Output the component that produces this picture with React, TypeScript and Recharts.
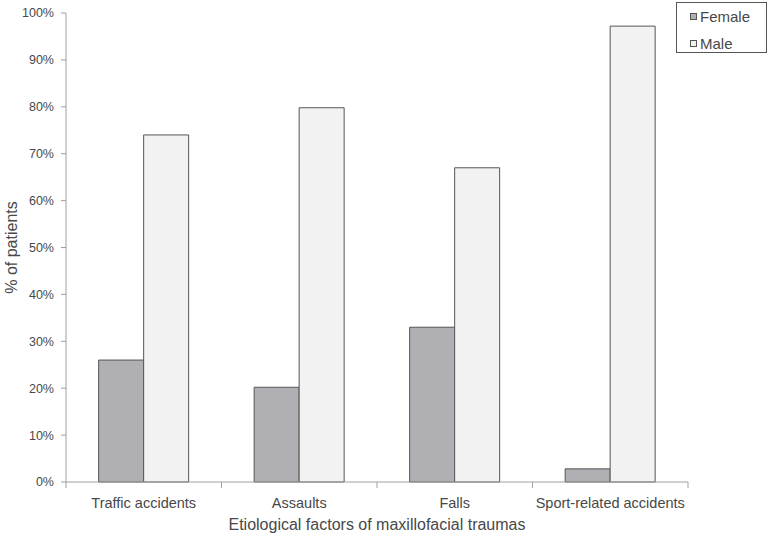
import { Bar, BarChart, XAxis, YAxis } from 'recharts'

const categories = ['Traffic accidents', 'Assaults', 'Falls', 'Sport-related accidents']
const female = [26, 20.2, 33, 2.8]
const male = [74, 79.8, 67, 97.2]
const yTicks = [0, 10, 20, 30, 40, 50, 60, 70, 80, 90, 100]

const data = categories.map((name, i) => ({ name, female: female[i], male: male[i] }))

const FONT = '"Liberation Sans", Arial, sans-serif'
const TEXT = '#484848'
const AXIS = '#a0a0a0'
const BAND = 622 / categories.length

function CategoryTick(props: any) {
  const { x, y, payload, index } = props
  const last = index === categories.length - 1
  return (
    <g>
      <line x1={x - BAND / 2} y1={y - 8} x2={x - BAND / 2} y2={y - 2} stroke={AXIS} />
      {last && <line x1={x + BAND / 2} y1={y - 8} x2={x + BAND / 2} y2={y - 2} stroke={AXIS} />}
      <text x={x} y={y + 18} textAnchor="middle" fontSize={14.5} fill={TEXT} fontFamily={FONT}>
        {payload.value}
      </text>
    </g>
  )
}

function LegendBox() {
  const items = [
    { label: 'Female', fill: '#b0b0b4' },
    { label: 'Male', fill: '#f2f2f2' },
  ]
  return (
    <svg width={92} height={52} style={{ position: 'absolute', left: 676, top: 2 }}>
      <rect x={0.5} y={0.5} width={90} height={50} fill="#fff" stroke="#555" />
      {items.map((it, i) => (
        <g key={it.label}>
          <rect x={14.5} y={11.5 + i * 27} width={6} height={6} fill={it.fill} stroke="#555" />
          <text x={24} y={19.5 + i * 27} fontSize={15} fill={TEXT} fontFamily={FONT}>
            {it.label}
          </text>
        </g>
      ))}
    </svg>
  )
}

export default function App() {
  return (
    <div style={{ position: 'absolute', left: 0, top: 0, width: 771, height: 537, background: '#fff' }}>
      <BarChart
        width={771}
        height={537}
        data={data}
        margin={{ top: 13, right: 83, bottom: 25, left: 0 }}
        barGap={0}
        barCategoryGap="21%"
      >
        <YAxis
          width={66}
          domain={[0, 100]}
          ticks={yTicks}
          interval={0}
          tickFormatter={(v: number) => `${v}%`}
          tick={{ fontSize: 12.5, fill: TEXT, fontFamily: FONT, dx: -5 }}
          tickSize={5}
          stroke={AXIS}
          label={{
            value: '% of patients',
            angle: -90,
            position: 'insideLeft',
            offset: 11,
            style: { fontSize: 16, fill: TEXT, fontFamily: FONT, textAnchor: 'middle' },
          }}
        />
        <XAxis
          dataKey="name"
          height={30}
          tickLine={false}
          stroke={AXIS}
          interval={0}
          tick={<CategoryTick />}
          label={{
            value: 'Etiological factors of maxillofacial traumas',
            position: 'insideBottom',
            offset: -18,
            style: { fontSize: 16, fill: TEXT, fontFamily: FONT },
          }}
        />
        <Bar dataKey="female" name="Female" fill="#b0b0b4" stroke="#555" strokeWidth={1} isAnimationActive={false} />
        <Bar dataKey="male" name="Male" fill="#f2f2f2" stroke="#555" strokeWidth={1} isAnimationActive={false} />
      </BarChart>
      <LegendBox />
    </div>
  )
}
